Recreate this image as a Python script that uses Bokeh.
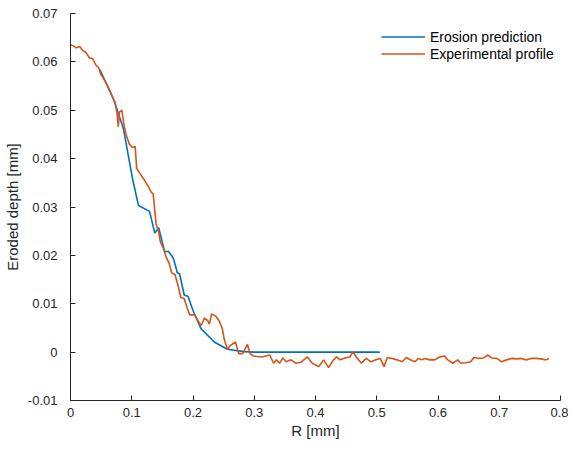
from bokeh.plotting import figure
from bokeh.models import Range1d, FixedTicker, CustomJSTickFormatter, Legend, LegendItem
from bokeh.embed import file_html
from bokeh.resources import INLINE

# Erosion prediction (model)
R_pred = [0.048, 0.064, 0.072, 0.0864, 0.101, 0.111, 0.129, 0.1376, 0.144, 0.1536,
          0.160, 0.168, 0.1744, 0.178, 0.1856, 0.192, 0.200, 0.2133, 0.2347, 0.256,
          0.283, 0.300, 0.505]
depth_pred = [0.0584, 0.0540, 0.0517, 0.0462, 0.0360, 0.0303, 0.0291, 0.0246, 0.0257, 0.0208,
              0.0208, 0.0194, 0.0164, 0.0162, 0.0118, 0.0115, 0.0086, 0.0048, 0.0021, 0.0006,
              0.0001, 0.0, 0.0]

# Experimental profile
R_exp = [0.000, 0.003, 0.0096, 0.015, 0.019, 0.0256, 0.031, 0.036, 0.0416, 0.046,
         0.0496, 0.053, 0.0576, 0.063, 0.068, 0.0725, 0.076, 0.078, 0.080, 0.084,
         0.087, 0.0907, 0.096, 0.101, 0.1056, 0.108, 0.113, 0.120, 0.128, 0.132,
         0.135, 0.1376, 0.1397, 0.144, 0.1467, 0.152, 0.1557, 0.161, 0.165, 0.1707,
         0.176, 0.180, 0.1856, 0.191, 0.1947, 0.2027, 0.208, 0.2133, 0.2187, 0.224,
         0.2267, 0.2304, 0.2373, 0.2427, 0.248, 0.2507, 0.256, 0.2613, 0.2693, 0.2747,
         0.281, 0.289, 0.293, 0.2987, 0.305, 0.312, 0.3253, 0.3317, 0.336, 0.3413,
         0.3467, 0.352, 0.360, 0.368, 0.376, 0.3867, 0.3947, 0.4053, 0.4133, 0.4213,
         0.4293, 0.4347, 0.440, 0.448, 0.456, 0.4613, 0.4667, 0.4747, 0.4827, 0.4907,
         0.4987, 0.5056, 0.512, 0.5173, 0.5253, 0.5333, 0.5413, 0.5483, 0.5547, 0.5627,
         0.568, 0.5733, 0.5787, 0.5867, 0.5947, 0.6027, 0.6107, 0.616, 0.624, 0.632,
         0.6373, 0.6453, 0.6533, 0.6587, 0.6667, 0.6747, 0.6816, 0.688, 0.696, 0.704,
         0.712, 0.720, 0.728, 0.736, 0.744, 0.752, 0.760, 0.768, 0.776, 0.7813]
depth_exp = [0.0635, 0.0634, 0.0629, 0.0632, 0.0625, 0.0619, 0.0608, 0.0607, 0.0593, 0.0588,
             0.0574, 0.0568, 0.0557, 0.0544, 0.0530, 0.0517, 0.0493, 0.0466, 0.0496, 0.0500,
             0.0472, 0.0450, 0.0430, 0.0423, 0.0425, 0.0380, 0.0370, 0.0357, 0.0340, 0.0330,
             0.0327, 0.0293, 0.0265, 0.0248, 0.0228, 0.0214, 0.0198, 0.0184, 0.0164, 0.0160,
             0.0136, 0.0113, 0.0111, 0.0089, 0.0077, 0.0077, 0.0065, 0.0055, 0.0070, 0.0065,
             0.0058, 0.0079, 0.0074, 0.0065, 0.0048, 0.0028, 0.0006, 0.0014, 0.0021, -0.0003,
             -0.0003, 0.0016, -0.0003, -0.0008, -0.0009, -0.0010, -0.0006, -0.0023, -0.0016, -0.0023,
             -0.0012, -0.0020, -0.0016, -0.0023, -0.0021, -0.0010, -0.0023, -0.0030, -0.0016, -0.0032,
             -0.0016, -0.0010, -0.0016, -0.0012, -0.0010, 0.0001, -0.0010, -0.0023, -0.0013, -0.0020,
             -0.0016, -0.0013, -0.0030, -0.0011, -0.0013, -0.0016, -0.0020, -0.0011, -0.0016, -0.0020,
             -0.0013, -0.0016, -0.0013, -0.0016, -0.0016, -0.0010, -0.0008, -0.0016, -0.0023, -0.0016,
             -0.0023, -0.0022, -0.0020, -0.0011, -0.0013, -0.0012, -0.0006, -0.0012, -0.0013, -0.0020,
             -0.0016, -0.0013, -0.0014, -0.0013, -0.0016, -0.0013, -0.0013, -0.0014, -0.0016, -0.0013]

x_ticks = [0, 0.1, 0.2, 0.3, 0.4, 0.5, 0.6, 0.7, 0.8]
y_ticks = [-0.01, 0, 0.01, 0.02, 0.03, 0.04, 0.05, 0.06, 0.07]

FONT = "Liberation Sans"
AXC = "#262626"

p = figure(width=568, height=441, output_backend="svg", toolbar_location=None,
           x_range=Range1d(0, 0.8), y_range=Range1d(-0.01, 0.07),
           min_border_left=70, min_border_right=8, min_border_top=13, min_border_bottom=41)
p.outline_line_color = None
p.grid.visible = False
p.background_fill_color = "white"
p.border_fill_color = "white"

fmt = CustomJSTickFormatter(code="return String(Number(tick.toFixed(3)));")
for ax, ticks in ((p.xaxis[0], x_ticks), (p.yaxis[0], y_ticks)):
    ax.ticker = FixedTicker(ticks=ticks, minor_ticks=[])
    ax.formatter = fmt
    ax.major_tick_in = 5
    ax.major_tick_out = 0
    ax.minor_tick_in = 0
    ax.minor_tick_out = 0
    ax.axis_line_color = AXC
    ax.major_tick_line_color = AXC
    ax.major_label_text_color = AXC
    ax.major_label_text_font = FONT
    ax.major_label_text_font_size = "13px"
    ax.axis_label_text_font = FONT
    ax.axis_label_text_font_size = "15px"
    ax.axis_label_text_font_style = "normal"
    ax.axis_label_text_color = AXC

p.xaxis.axis_label = "R [mm]"
p.yaxis.axis_label = "Eroded depth [mm]"
p.xaxis.major_label_standoff = 7
p.xaxis.axis_label_standoff = 2
p.yaxis.major_label_standoff = 13
p.yaxis.axis_label_standoff = 4

l1 = p.line(R_pred, depth_pred, line_color="#0072BD", line_width=1.6)
l2 = p.line(R_exp, depth_exp, line_color="#D95319", line_width=1.6)

legend = Legend(items=[LegendItem(label="Erosion prediction", renderers=[l1]),
                       LegendItem(label="Experimental profile", renderers=[l2])],
                location=(311, 338))
legend.border_line_color = None
legend.background_fill_alpha = 0
legend.margin = 0
legend.padding = 8
legend.spacing = 0
legend.label_text_font = FONT
legend.label_text_font_size = "14px"
legend.label_text_color = "#000000"
legend.glyph_width = 44
legend.glyph_height = 17
legend.label_height = 17
legend.label_standoff = 5
p.add_layout(legend, "center")

open("out.html", "w").write(file_html(p, INLINE))
